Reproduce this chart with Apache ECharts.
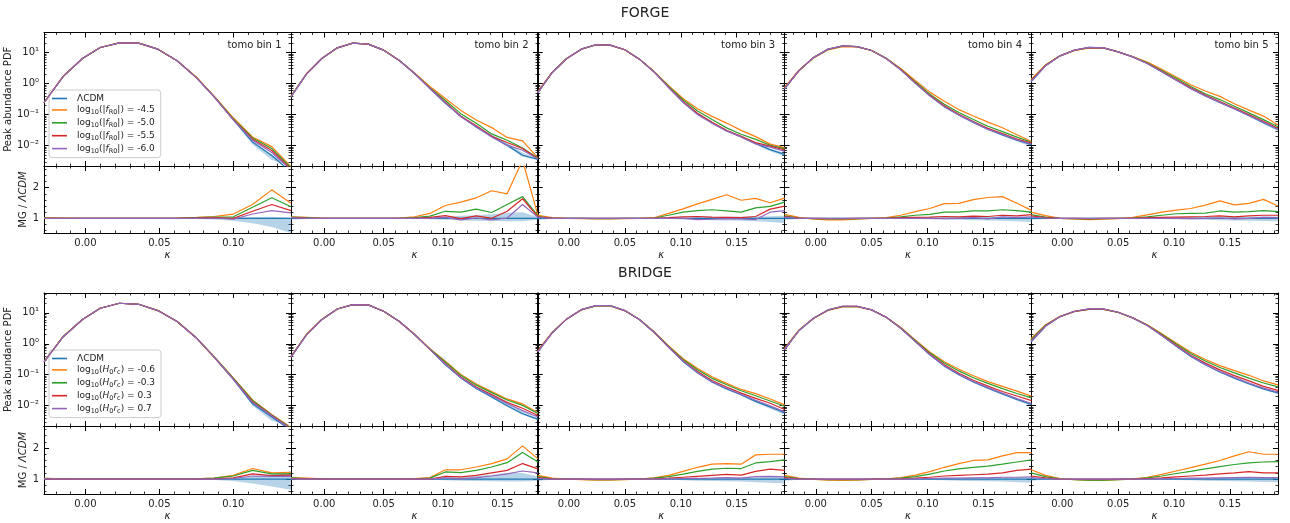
<!DOCTYPE html>
<html>
<head>
<meta charset="utf-8">
<script src="https://cdn.jsdelivr.net/npm/echarts@6/dist/echarts.min.js"></script>
<style>
html,body{margin:0;padding:0;background:#fff;}
#chart{width:1290px;height:523px;}
</style>
</head>
<body>
<div id="chart"></div>
<script>
// kappa bin centres, one list per tomographic bin
var kappa1 = [-0.028,-0.015,-0.002,0.010,0.023,0.036,0.049,0.062,0.075,0.087,0.100,0.113,0.126,0.139];
var kappa2 = [-0.028,-0.015,-0.002,0.011,0.024,0.037,0.050,0.063,0.076,0.089,0.102,0.115,0.128,0.141,0.154,0.167,0.180];
var kappa3 = [-0.028,-0.015,-0.002,0.011,0.024,0.037,0.050,0.063,0.076,0.089,0.102,0.115,0.128,0.141,0.154,0.167,0.180,0.193];
var kappaBins = [kappa1, kappa2, kappa3, kappa3, kappa3];
var kappaMax = [0.139, 0.180, 0.193, 0.193, 0.193];

// tick labels
var xMajor1 = [0, 0.05, 0.10];
var xMajor2 = [0, 0.05, 0.10, 0.15];
var xMinor1 = [-0.02,-0.01,0.01,0.02,0.03,0.04,0.06,0.07,0.08,0.09,0.11,0.12,0.13];
var xMinor2 = [-0.02,-0.01,0.01,0.02,0.03,0.04,0.06,0.07,0.08,0.09,0.11,0.12,0.13,0.14,0.16,0.17];
var xMinor3 = [-0.02,-0.01,0.01,0.02,0.03,0.04,0.06,0.07,0.08,0.09,0.11,0.12,0.13,0.14,0.16,0.17,0.18,0.19];
var pdfMajor = [0.01, 0.1, 1, 10];
var pdfMinor = [0.003,0.004,0.005,0.006,0.007,0.008,0.009,0.02,0.03,0.04,0.05,0.06,0.07,0.08,0.09,
                0.2,0.3,0.4,0.5,0.6,0.7,0.8,0.9,2,3,4,5,6,7,8,9,20,30,40];
var ratioMajor = [1, 2];
var ratioMinor = [0.6,0.8,1.2,1.4,1.6,1.8,2.2,2.4,2.6];
var binNames = ['tomo bin 1','tomo bin 2','tomo bin 3','tomo bin 4','tomo bin 5'];

// FORGE: LCDM peak PDF and MG / LCDM ratios
var forgePdfLcdm = [
  [0.24,1.7,6.4,14.5,20.4,20,12.8,5.4,1.55,0.37,0.069,0.013,0.0048,0.0014],
  [0.37,2.0,6.4,14.1,20,18.5,11.9,5.6,2.1,0.69,0.23,0.089,0.040,0.020,0.0102,0.0049,0.0036],
  [0.49,2.27,6.4,12.8,17.7,17.2,12.2,6.1,2.4,0.75,0.25,0.104,0.054,0.030,0.0194,0.0118,0.0074,0.0052],
  [0.66,2.6,6.9,12.8,16.3,15.5,11.6,6.4,2.76,1.03,0.40,0.18,0.097,0.056,0.034,0.022,0.015,0.0107],
  [1.13,3.7,7.8,11.9,14.5,14.1,10.5,7.2,4.4,2.4,1.28,0.69,0.40,0.245,0.155,0.093,0.055,0.033]
];
var forgeRatioF45 = [
  [1.02,1.01,1.0,1.0,1.0,1.0,1.0,1.01,1.03,1.06,1.14,1.45,1.93,1.49],
  [1.05,1.03,1.01,1.0,1.0,1.0,1.0,1.01,1.05,1.16,1.42,1.53,1.67,1.90,1.80,2.9,1.09],
  [1.10,1.02,1.0,0.99,0.98,0.98,0.99,1.0,1.02,1.16,1.31,1.47,1.62,1.77,1.59,1.65,1.51,1.66],
  [1.13,1.03,0.97,0.95,0.95,0.97,1.0,1.02,1.1,1.22,1.32,1.48,1.49,1.61,1.68,1.71,1.49,1.26],
  [1.2,1.09,1.0,0.97,0.96,0.97,0.99,1.03,1.11,1.2,1.27,1.32,1.43,1.57,1.44,1.49,1.62,1.4]
];
var forgeRatioF50 = [
  [1.01,1.0,1.0,1.0,1.0,1.0,1.0,1.0,1.02,1.04,1.05,1.36,1.67,1.38],
  [1.04,1.02,1.0,1.0,1.0,1.0,1.0,1.0,1.02,1.07,1.23,1.20,1.30,1.19,1.45,1.71,1.08],
  [1.06,1.01,1.0,1.0,0.99,0.99,1.0,1.0,1.01,1.1,1.2,1.25,1.28,1.24,1.2,1.34,1.39,1.53],
  [1.08,1.01,0.99,0.98,0.98,0.99,1.0,1.01,1.05,1.1,1.13,1.2,1.2,1.24,1.24,1.28,1.25,1.2],
  [1.12,1.04,1.0,0.99,0.98,0.99,1.0,1.01,1.05,1.1,1.15,1.16,1.17,1.24,1.2,1.22,1.25,1.22]
];
var forgeRatioF55 = [
  [1.0,1.0,1.0,1.0,1.0,1.0,1.0,1.0,1.01,1.02,1.0,1.23,1.45,1.25],
  [1.03,1.01,1.0,1.0,1.0,1.0,1.0,1.0,1.01,1.03,1.09,0.99,1.08,1.0,1.23,1.64,1.05],
  [1.05,1.01,1.0,1.0,1.0,1.0,1.0,1.0,1.0,1.02,1.05,1.06,1.04,1.03,1.02,1.06,1.3,1.4],
  [1.06,1.01,1.0,0.99,0.99,1.0,1.0,1.0,1.02,1.03,1.04,1.06,1.05,1.07,1.06,1.1,1.08,1.12],
  [1.08,1.02,1.0,1.0,0.99,1.0,1.0,1.0,1.02,1.03,1.04,1.05,1.06,1.08,1.05,1.08,1.1,1.1]
];
var forgeRatioF60 = [
  [1.0,1.0,1.0,1.0,1.0,1.0,1.0,1.0,1.0,1.01,0.97,1.14,1.25,1.18],
  [1.02,1.0,1.0,1.0,1.0,1.0,1.0,1.0,1.0,1.0,1.03,0.95,1.01,0.95,1.01,1.45,1.03],
  [1.03,1.0,1.0,1.0,1.0,1.0,1.0,1.0,1.0,1.0,1.0,0.96,0.97,0.99,0.98,0.96,1.2,1.25],
  [1.04,1.0,1.0,1.0,1.0,1.0,1.0,1.0,1.0,1.0,1.0,0.99,1.0,1.02,0.98,1.05,1.02,1.05],
  [1.04,1.01,1.0,1.0,1.0,1.0,1.0,1.0,1.0,1.0,1.0,0.99,1.0,1.01,0.98,1.0,1.03,1.02]
];
var forgeBandLo = [
  [1,1,1,1,1,1,1,0.99,0.98,0.96,0.92,0.84,0.72,0.5],
  [0.95,0.98,1,1,1,1,1,1,0.99,0.97,0.95,0.93,0.92,0.91,0.9,0.9,0.95],
  [0.95,0.98,1,1,1,1,1,1,0.99,0.98,0.96,0.95,0.94,0.93,0.92,0.9,0.88,0.85],
  [0.95,0.98,1,1,1,1,1,1,0.99,0.98,0.97,0.96,0.95,0.94,0.93,0.92,0.9,0.88],
  [0.95,0.98,1,1,1,1,1,1,0.99,0.98,0.97,0.96,0.95,0.94,0.93,0.92,0.91,0.9]
];
var forgeBandHi = [
  [1,1,1,1,1,1,1,1.0,1.01,1.02,1.03,1.04,1.05,1.02],
  [1.05,1.02,1,1,1,1,1,1,1.01,1.03,1.06,1.08,1.1,1.13,1.18,1.2,1.04],
  [1.05,1.02,1,1,1,1,1,1,1.01,1.02,1.03,1.04,1.04,1.05,1.05,1.06,1.07,1.08],
  [1.05,1.02,1,1,1,1,1,1,1.01,1.02,1.03,1.03,1.04,1.04,1.05,1.05,1.06,1.06],
  [1.05,1.02,1,1,1,1,1,1,1.01,1.02,1.03,1.03,1.04,1.04,1.05,1.05,1.06,1.06]
];

// BRIDGE: LCDM peak PDF and MG / LCDM ratios
var bridgePdfLcdm = [
  [0.26,1.7,6.1,14.1,20.5,19,11.9,5.3,1.55,0.37,0.071,0.0115,0.0043,0.0016],
  [0.37,1.95,6.1,13.4,18.5,18.1,11.3,5.4,2.0,0.66,0.21,0.079,0.036,0.019,0.010,0.0055,0.0036],
  [0.54,2.27,6.4,12.7,17.2,17.2,11.9,6.1,2.38,0.78,0.27,0.116,0.058,0.035,0.0226,0.0138,0.0091,0.0059],
  [0.64,2.7,6.7,12.5,16.4,16.4,12.5,7.2,3.2,1.19,0.44,0.19,0.1,0.058,0.037,0.024,0.016,0.011],
  [1.13,3.7,7.6,11.3,13.4,13.4,10.5,6.9,3.9,1.85,0.84,0.39,0.21,0.123,0.078,0.051,0.035,0.026]
];
var bridgeRatioN06 = [
  [1.02,1.01,1.0,1.0,1.0,1.0,1.0,1.0,1.01,1.03,1.12,1.34,1.2,1.22],
  [1.05,1.03,1.01,1.0,1.0,1.0,1.0,1.0,1.02,1.05,1.30,1.30,1.39,1.5,1.65,2.07,1.65],
  [1.12,1.03,1.0,0.98,0.97,0.97,0.98,1.0,1.04,1.12,1.25,1.38,1.48,1.5,1.48,1.78,1.8,1.8],
  [1.12,1.03,0.99,0.97,0.96,0.97,0.99,1.01,1.05,1.13,1.24,1.38,1.5,1.6,1.62,1.75,1.85,1.85],
  [1.3,1.12,1.02,0.98,0.96,0.96,0.98,1.0,1.06,1.15,1.26,1.37,1.48,1.6,1.75,1.88,1.8,1.8]
];
var bridgeRatioN03 = [
  [1.02,1.01,1.0,1.0,1.0,1.0,1.0,1.0,1.01,1.03,1.1,1.28,1.17,1.17],
  [1.04,1.02,1.01,1.0,1.0,1.0,1.0,1.0,1.01,1.03,1.23,1.21,1.28,1.39,1.53,1.86,1.55],
  [1.08,1.02,1.0,0.99,0.98,0.98,0.99,1.0,1.03,1.08,1.16,1.25,1.32,1.35,1.34,1.52,1.56,1.62],
  [1.08,1.02,1.0,0.98,0.98,0.98,0.99,1.0,1.03,1.08,1.16,1.26,1.33,1.38,1.42,1.48,1.55,1.62],
  [1.2,1.08,1.01,0.98,0.97,0.97,0.98,1.0,1.04,1.1,1.18,1.25,1.33,1.4,1.47,1.52,1.55,1.56]
];
var bridgeRatioP03 = [
  [1.01,1.0,1.0,1.0,1.0,1.0,1.0,1.0,1.0,1.01,1.04,1.17,1.11,1.13],
  [1.02,1.01,1.0,1.0,1.0,1.0,1.0,1.0,1.0,1.0,1.09,1.07,1.12,1.2,1.28,1.5,1.33],
  [1.05,1.01,1.0,1.0,0.99,0.99,1.0,1.0,1.01,1.03,1.06,1.09,1.12,1.15,1.13,1.25,1.32,1.28],
  [1.05,1.01,1.0,0.99,0.99,0.99,1.0,1.0,1.01,1.03,1.06,1.1,1.12,1.14,1.16,1.2,1.28,1.32],
  [1.1,1.04,1.0,0.99,0.99,0.99,1.0,1.0,1.02,1.04,1.07,1.1,1.13,1.17,1.2,1.24,1.2,1.2]
];
var bridgeRatioP07 = [
  [1.01,1.0,1.0,1.0,1.0,1.0,1.0,1.0,1.0,1.0,1.02,1.1,1.09,1.09],
  [1.01,1.0,1.0,1.0,1.0,1.0,1.0,1.0,1.0,1.0,1.04,1.01,1.05,1.1,1.17,1.26,1.2],
  [1.02,1.0,1.0,1.0,1.0,1.0,1.0,1.0,1.0,1.01,1.02,1.02,1.03,1.05,1.03,1.08,1.09,1.07],
  [1.02,1.0,1.0,1.0,1.0,1.0,1.0,1.0,1.0,1.01,1.02,1.03,1.03,1.04,1.04,1.06,1.06,1.07],
  [1.05,1.02,1.0,1.0,1.0,1.0,1.0,1.0,1.0,1.01,1.02,1.03,1.03,1.04,1.05,1.06,1.05,1.05]
];
var bridgeBandLo = [
  [1,1,1,1,1,1,1,0.99,0.98,0.97,0.94,0.86,0.76,0.66],
  [0.96,0.98,1,1,1,1,1,1,0.99,0.98,0.96,0.95,0.94,0.93,0.92,0.92,0.95],
  [0.95,0.98,1,1,1,1,1,1,0.99,0.98,0.96,0.95,0.94,0.93,0.92,0.9,0.88,0.86],
  [0.95,0.98,1,1,1,1,1,1,0.99,0.98,0.97,0.96,0.95,0.94,0.93,0.92,0.9,0.88],
  [0.95,0.98,1,1,1,1,1,1,0.99,0.98,0.97,0.96,0.95,0.94,0.93,0.92,0.91,0.9]
];
var bridgeBandHi = [
  [1,1,1,1,1,1,1,1.0,1.01,1.02,1.04,1.08,1.15,1.25],
  [1.04,1.02,1,1,1,1,1,1,1.01,1.02,1.05,1.07,1.1,1.14,1.2,1.2,1.08],
  [1.05,1.02,1,1,1,1,1,1,1.01,1.02,1.03,1.04,1.04,1.05,1.05,1.06,1.07,1.08],
  [1.05,1.02,1,1,1,1,1,1,1.01,1.02,1.03,1.03,1.04,1.04,1.05,1.05,1.06,1.06],
  [1.05,1.02,1,1,1,1,1,1,1.01,1.02,1.03,1.03,1.04,1.04,1.05,1.05,1.06,1.06]
];

var forgeModels = ['-4.5','-5.0','-5.5','-6.0'];
var bridgeModels = ['-0.6','-0.3','0.3','0.7'];

var FONT = 'DejaVu Sans';
var colors = ['#1f77b4','#ff7f0e','#2ca02c','#d62728','#9467bd'];
var bandColor = 'rgba(31,119,180,0.32)';
var colLeft = [44, 291, 537.7, 784.5, 1031];
var colWidth = 247;
var rows = [
  {title:'FORGE', titleTop:6, top:32.5, topH:133.5, ratioH:67,
   pdf:forgePdfLcdm, ratios:[forgeRatioF45,forgeRatioF50,forgeRatioF55,forgeRatioF60],
   lo:forgeBandLo, hi:forgeBandHi, models:forgeModels, tag:'f', legendTop:90},
  {title:'BRIDGE', titleTop:266, top:293, topH:133, ratioH:68,
   pdf:bridgePdfLcdm, ratios:[bridgeRatioN06,bridgeRatioN03,bridgeRatioP03,bridgeRatioP07],
   lo:bridgeBandLo, hi:bridgeBandHi, models:bridgeModels, tag:'h', legendTop:350}
];
var xMajors = [xMajor1, xMajor2, xMajor2, xMajor2, xMajor2];
var xMinors = [xMinor1, xMinor2, xMinor3, xMinor3, xMinor3];
var supers = {'-2':'\u207B\u00B2','-1':'\u207B\u00B9','0':'\u2070','1':'\u00B9'};

var option = {
  animation: false,
  backgroundColor: '#fff',
  textStyle: {fontFamily: FONT},
  title: [], legend: [], grid: [], xAxis: [], yAxis: [], series: []
};

function addX(gi, col, isRatio) {
  var idx = option.xAxis.length;
  ['bottom','top'].forEach(function(pos) {
    var labeled = isRatio && pos === 'bottom';
    option.xAxis.push({
      gridIndex: gi, type: 'value', min: -0.028, max: kappaMax[col], position: pos,
      splitLine: {show: false},
      axisLine: {show: true, onZero: false, lineStyle: {color: '#000', width: 1}},
      axisTick: {show: true, inside: true, length: 5, customValues: xMajors[col], lineStyle: {color: '#000', width: 1}},
      axisLabel: {show: labeled, customValues: xMajors[col], fontSize: 10, color: '#222', margin: 5,
        formatter: function(v) { return v.toFixed(2); }},
      name: labeled ? '\u03BA' : '', nameLocation: 'middle', nameGap: 17,
      nameTextStyle: {fontStyle: 'italic', fontSize: 10, color: '#222'}
    });
    option.xAxis.push({
      gridIndex: gi, type: 'value', min: -0.028, max: kappaMax[col], position: pos,
      splitLine: {show: false}, axisLine: {show: false, onZero: false},
      axisTick: {show: true, inside: true, length: 2.5, customValues: xMinors[col], lineStyle: {color: '#000', width: 0.8}},
      axisLabel: {show: false}
    });
  });
  return idx;
}

function addY(gi, col, isRatio) {
  var idx = option.yAxis.length;
  ['left','right'].forEach(function(pos) {
    var labeled = col === 0 && pos === 'left';
    var ax = {
      gridIndex: gi, type: isRatio ? 'value' : 'log', logBase: 10,
      min: isRatio ? 0.52 : 0.0022, max: isRatio ? 2.71 : 44, position: pos,
      splitLine: {show: false},
      axisLine: {show: true, onZero: false, lineStyle: {color: '#000', width: 1}},
      axisTick: {show: true, inside: true, length: 5, customValues: isRatio ? ratioMajor : pdfMajor, lineStyle: {color: '#000', width: 1}},
      axisLabel: {show: labeled, customValues: isRatio ? ratioMajor : pdfMajor, fontSize: 10, color: '#222', margin: 5,
        formatter: isRatio ? function(v) { return String(Math.round(v)); }
                           : function(v) { return '10' + supers[String(Math.round(Math.log10(v)))]; }}
    };
    if (labeled) {
      ax.nameLocation = 'middle';
      ax.nameRotate = 90;
      if (isRatio) {
        ax.name = '{n|MG / }{i|\u039BCDM}';
        ax.nameGap = 11;
        ax.nameTextStyle = {color: '#222', rich: {n: {fontSize: 10, color: '#222'}, i: {fontSize: 10, fontStyle: 'italic', color: '#222'}}};
      } else {
        ax.name = 'Peak abundance PDF';
        ax.nameGap = 27;
        ax.nameTextStyle = {fontSize: 10, color: '#222'};
      }
    }
    option.yAxis.push(ax);
    option.yAxis.push({
      gridIndex: gi, type: isRatio ? 'value' : 'log', logBase: 10,
      min: isRatio ? 0.52 : 0.0022, max: isRatio ? 2.71 : 44, position: pos,
      splitLine: {show: false}, axisLine: {show: false, onZero: false},
      axisTick: {show: true, inside: true, length: 2.5, customValues: isRatio ? ratioMinor : pdfMinor, lineStyle: {color: '#000', width: 0.8}},
      axisLabel: {show: false}
    });
  });
  return idx;
}

function lineSeries(name, xi, yi, pts, color, z) {
  return {type: 'line', name: name, xAxisIndex: xi, yAxisIndex: yi, data: pts,
    symbol: 'none', showSymbol: false, z: z, clip: true,
    itemStyle: {color: color}, lineStyle: {color: color, width: 1.2}};
}

// shaded LCDM error band, drawn as one polygon through the axis scales
function bandSeries(xi, yi, kap, lowVals, highVals) {
  return {
    type: 'custom', xAxisIndex: xi, yAxisIndex: yi, silent: true, clip: true, z: 1,
    data: kap.map(function(k, i) { return [k, lowVals[i], highVals[i]]; }),
    encode: {x: 0, y: [1, 2]},
    renderItem: function(params, api) {
      if (params.dataIndex !== 0) return null;
      var pts = [];
      for (var i = 0; i < kap.length; i++) pts.push(api.coord([kap[i], lowVals[i]]));
      for (var j = kap.length - 1; j >= 0; j--) pts.push(api.coord([kap[j], highVals[j]]));
      return {type: 'polygon',
        shape: {points: echarts.graphic.clipPointsByRect(pts, params.coordSys)},
        style: {fill: bandColor}};
    }
  };
}

function modelName(row, m) { return row.tag + ' ' + row.models[m]; }

rows.forEach(function(row, r) {
  option.title.push({text: row.title, left: 'center', top: row.titleTop, padding: 0,
    textStyle: {fontSize: 14, fontWeight: 'normal', color: '#222', fontFamily: FONT}});

  for (var c = 0; c < 5; c++) {
    var kap = kappaBins[c];
    var lcdm = row.pdf[c];
    var lo = row.lo[c], hi = row.hi[c];
    [false, true].forEach(function(isRatio) {
      var gi = option.grid.length;
      option.grid.push({
        left: colLeft[c], width: colWidth,
        top: isRatio ? row.top + row.topH : row.top,
        height: isRatio ? row.ratioH : row.topH
      });
      var xi = addX(gi, c, isRatio);
      var yi = addY(gi, c, isRatio);
      var scale = function(i) { return isRatio ? 1 : lcdm[i]; };
      option.series.push(bandSeries(xi, yi, kap,
        lo.map(function(v, i) { return v * scale(i); }),
        hi.map(function(v, i) { return v * scale(i); })));
      // LCDM
      option.series.push(lineSeries('\u039BCDM', xi, yi,
        kap.map(function(k, i) { return [k, isRatio ? lcdm[i] / lcdm[i] : lcdm[i]]; }), colors[0], 2));
      // modified gravity models
      row.ratios.forEach(function(ratioSet, m) {
        var rat = ratioSet[c];
        option.series.push(lineSeries(modelName(row, m), xi, yi,
          kap.map(function(k, i) { return [k, isRatio ? rat[i] : lcdm[i] * rat[i]]; }), colors[m + 1], 3 + m));
      });
    });
    if (r === 0) {
      option.title.push({text: binNames[c], right: 1290 - (colLeft[c] + colWidth - 9.5), top: 40, padding: 0,
        textStyle: {fontSize: 10, fontWeight: 'normal', color: '#222', fontFamily: FONT}});
    }
  }

  var legendData = ['\u039BCDM'];
  row.models.forEach(function(v, m) { legendData.push(modelName(row, m)); });
  option.legend.push({
    data: legendData.map(function(n) { return {name: n, icon: 'rect'}; }),
    orient: 'vertical', left: 49, top: row.legendTop,
    itemWidth: 15, itemHeight: 1.6, itemGap: 2.4,
    padding: [4, 6, 3, 3],
    backgroundColor: 'rgba(255,255,255,0.85)', borderColor: '#cccccc', borderWidth: 1, borderRadius: 3,
    selectedMode: false,
    formatter: function(name) {
      if (name === '\u039BCDM') return '{n|\u039BCDM}';
      var val = name.split(' ')[1];
      if (row.tag === 'f') return '{n|log}{s|10}{n|(|}{i|f}{s|R0}{n||) = ' + val + '}';
      return '{n|log}{s|10}{n|(}{i|H}{s|0}{i|r}{s|c}{n|) = ' + val + '}';
    },
    textStyle: {
      color: '#222', fontSize: 9, padding: [0, 0, 0, 5],
      rich: {
        n: {fontSize: 9, color: '#222', lineHeight: 12},
        i: {fontSize: 9, fontStyle: 'italic', color: '#222', lineHeight: 12},
        s: {fontSize: 6.5, color: '#222', lineHeight: 6, verticalAlign: 'bottom'}
      }
    }
  });
});

var chart = echarts.init(document.getElementById('chart'), null, {renderer: 'canvas'});
chart.setOption(option);
</script>
</body>
</html>
